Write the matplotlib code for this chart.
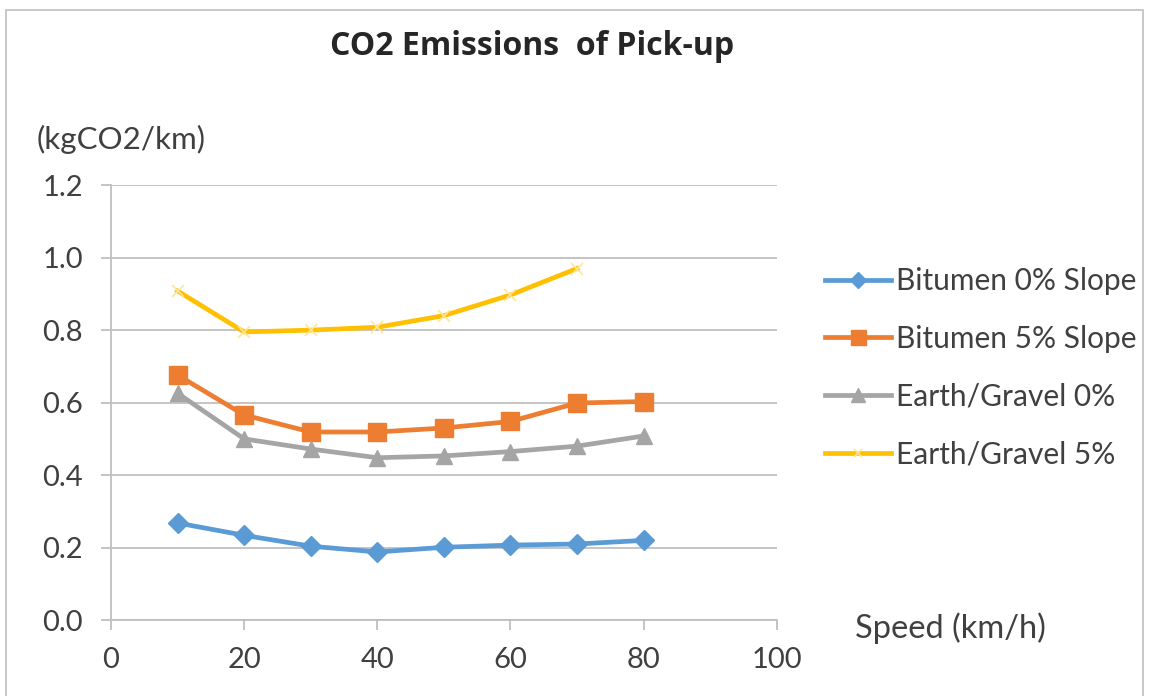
import matplotlib
matplotlib.use("Agg")
import matplotlib.pyplot as plt
from matplotlib.patches import Rectangle

# Data
speeds = [10, 20, 30, 40, 50, 60, 70, 80]
bitumen_0 = [0.268, 0.234, 0.204, 0.188, 0.201, 0.207, 0.210, 0.220]
bitumen_5 = [0.676, 0.566, 0.519, 0.519, 0.530, 0.548, 0.599, 0.603]
gravel_0 = [0.626, 0.500, 0.472, 0.448, 0.453, 0.465, 0.480, 0.508]
speeds_g5 = [10, 20, 30, 40, 50, 60, 70]
gravel_5 = [0.908, 0.795, 0.800, 0.808, 0.840, 0.897, 0.970]

x_ticks = [0, 20, 40, 60, 80, 100]
y_ticks = [0.0, 0.2, 0.4, 0.6, 0.8, 1.0, 1.2]

plt.rcParams["font.family"] = ["Lato", "DejaVu Sans"]

fig = plt.figure(figsize=(11.49, 6.96), dpi=100)
ax = fig.add_axes([0.0966, 0.109, 0.5794, 0.625])

# light frame round the whole chart
fig.patches.append(Rectangle((0.005, -0.01), 0.99, 0.995, transform=fig.transFigure,
                             fill=False, edgecolor="#BFBFBF", linewidth=1.2))

ax.plot(speeds, bitumen_0, color="#5B9BD5", lw=3.4, marker="D", ms=10,
        label="Bitumen 0% Slope")
ax.plot(speeds, bitumen_5, color="#ED7D31", lw=3.4, marker="s", ms=13.5,
        label="Bitumen 5% Slope")
ax.plot(speeds, gravel_0, color="#A5A5A5", lw=3.4, marker="^", ms=12,
        label="Earth/Gravel 0%")
ax.plot(speeds_g5, gravel_5, color="#FFC000", lw=3.4, marker="x", ms=8,
        mec="#FFE699", mew=1.2, label="Earth/Gravel 5%")

ax.set_xlim(0, 100)
ax.set_ylim(0, 1.2)
ax.set_xticks(x_ticks)
ax.set_yticks(y_ticks)
ax.set_yticklabels([f"{v:.1f}" for v in y_ticks])
ax.grid(axis="y", color="#BFBFBF", lw=1.3)
ax.set_axisbelow(True)
for side in ["top", "right"]:
    ax.spines[side].set_visible(False)
for side in ["left", "bottom"]:
    ax.spines[side].set_color("#BFBFBF")
    ax.spines[side].set_linewidth(1.3)
ax.tick_params(colors="#BFBFBF", length=7, width=1.3, labelsize=21,
               labelcolor="#404040")
ax.tick_params(axis="y", pad=13)
ax.tick_params(axis="x", pad=12)

fig.text(0.463, 0.933, "CO2 Emissions  of Pick-up", ha="center", va="center",
         fontsize=23, fontweight="bold", color="#262626",
         family=["Liberation Sans Narrow", "Open Sans"])
fig.text(0.032, 0.799, "(kgCO2/km)", ha="left", va="center", fontsize=22.5,
         color="#404040")
fig.text(0.744, 0.098, "Speed (km/h)", ha="left", va="center", fontsize=23.5,
         color="#404040")

fig.legend(loc="upper left", bbox_to_anchor=(0.695, 0.655), frameon=False,
           fontsize=21.5, handlelength=2.2, handletextpad=0.16,
           labelspacing=1.0, labelcolor="#404040", markerscale=0.8)

fig.savefig("out.png", dpi=100)
